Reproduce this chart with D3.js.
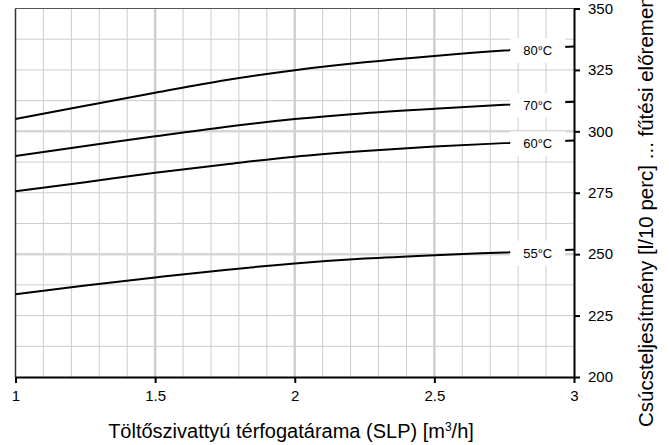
<!DOCTYPE html>
<html lang="hu">
<head>
<meta charset="UTF-8">
<title>Csúcsteljesítmény</title>
<script src="https://cdn.jsdelivr.net/npm/d3@7/dist/d3.min.js"></script>
<style>
  body { margin: 0; background: #fff; }
  text { font-family: "Liberation Sans", Arial, sans-serif; }
</style>
</head>
<body>
<script>
// x values (flow rate, m3/h) and the four temperature curves
var flow = [1, 1.25, 1.5, 1.75, 2, 2.25, 2.5, 2.75, 3];
var t80 = [305, 310.4, 315.7, 320.8, 324.9, 328.1, 330.7, 332.9, 334.5];
var t70 = [290, 294, 298, 301.8, 305, 307.4, 309.2, 310.8, 312];
var t60 = [275.6, 279.3, 283.1, 286.5, 289.7, 292, 293.8, 295.2, 296.3];
var t55 = [233.7, 237.2, 240.5, 243.6, 246.2, 248.2, 249.6, 250.7, 251.8];
var seriesNames = ["80°C", "70°C", "60°C", "55°C"];
var xTicks = [1, 1.5, 2, 2.5, 3];
var yTicks = [200, 225, 250, 275, 300, 325, 350];
var labelAt = 2.87;

var width = 669, height = 445;
var x = d3.scaleLinear().domain([1, 3]).range([15.5, 574]);
var y = d3.scaleLinear().domain([200, 350]).range([377, 8.5]);

var svg = d3.select("body").append("svg")
    .attr("width", width)
    .attr("height", height);

// grid - minor lines first, major ones on top
var xMinor = d3.range(1.1, 3, 0.1).map(function(d){ return +d.toFixed(1); });
var yMinor = d3.range(212.5, 350, 12.5);
var grid = svg.append("g");

grid.selectAll(".vx").data(xMinor).enter().append("line")
    .attr("x1", d => x(d)).attr("x2", d => x(d))
    .attr("y1", y(350)).attr("y2", y(200))
    .attr("stroke", (d) => (Math.round(d * 10) % 5 === 0) ? "#cfcfcf" : "#cccccc")
    .attr("stroke-width", (d) => (Math.round(d * 10) % 5 === 0) ? 2.5 : 1);

grid.selectAll(".hy").data(yMinor).enter().append("line")
    .attr("x1", x(1)).attr("x2", x(3))
    .attr("y1", d => y(d)).attr("y2", d => y(d))
    .attr("stroke", (d) => (d % 50 === 0) ? "#d6d6d6" : "#cccccc")
    .attr("stroke-width", (d) => (d % 50 === 0) ? 2.5 : 1);

// frame: top and left
svg.append("line").attr("x1", x(1)).attr("x2", x(3)).attr("y1", y(350)).attr("y2", y(350))
    .attr("stroke", "#555").attr("stroke-width", 1);
svg.append("line").attr("x1", x(1)).attr("x2", x(1)).attr("y1", y(350)).attr("y2", y(200))
    .attr("stroke", "#333").attr("stroke-width", 1.5);

// curves
var all = [t80, t70, t60, t55];
var line = d3.line()
    .x(function(d, i){ return x(flow[i]); })
    .y(function(d){ return y(d); })
    .curve(d3.curveMonotoneX);

svg.selectAll(".curve").data(all).enter().append("path")
    .attr("d", line)
    .attr("fill", "none")
    .attr("stroke", "#000")
    .attr("stroke-width", 2);

// labels on white boxes
var interp = function(vals){
    return d3.scaleLinear().domain(flow).range(vals)(labelAt);
};
var lab = svg.selectAll(".lab").data(all).enter().append("g")
    .attr("transform", function(d){ return "translate(" + x(labelAt) + "," + (y(interp(d)) + 2) + ")"; });
lab.append("rect")
    .attr("x", -27.5).attr("y", -12.5)
    .attr("width", 55).attr("height", 25)
    .attr("fill", "#fff");
lab.append("text")
    .attr("text-anchor", "middle")
    .attr("dy", "0.35em")
    .attr("font-size", 13)
    .text(function(d, i){ return seriesNames[i]; });

// bottom axis
var xAxis = svg.append("g")
    .attr("transform", "translate(0," + y(200) + ")")
    .call(d3.axisBottom(x).tickValues(xTicks).tickSize(6).tickSizeOuter(0).tickFormat(d3.format("")));
xAxis.select(".domain").attr("stroke", "#000").attr("stroke-width", 2);
xAxis.selectAll(".tick line").attr("stroke", "#000").attr("stroke-width", 2);
xAxis.selectAll(".tick text").attr("font-size", 15).attr("fill", "#000").attr("dy", "1em")
    .style("font-family", "Liberation Sans, Arial, sans-serif");

// right axis
var yAxis = svg.append("g")
    .attr("transform", "translate(" + x(3) + ",0)")
    .call(d3.axisRight(y).tickValues(yTicks).tickSize(6).tickSizeOuter(0));
yAxis.select(".domain").attr("stroke", "#000").attr("stroke-width", 2);
yAxis.selectAll(".tick line").attr("stroke", "#000").attr("stroke-width", 2);
yAxis.selectAll(".tick text").attr("font-size", 15).attr("fill", "#000").attr("x", 14)
    .style("font-family", "Liberation Sans, Arial, sans-serif");

// axis titles
svg.append("text")
    .attr("x", 291).attr("y", 438)
    .attr("text-anchor", "middle")
    .attr("font-size", 20)
    .html("Töltőszivattyú térfogatárama (SLP) [m<tspan baseline-shift='super' font-size='12'>3</tspan>/h]");

svg.append("text")
    .attr("transform", "translate(653,427) rotate(-90)")
    .attr("text-anchor", "start")
    .attr("font-size", 20.5)
    .text("Csúcsteljesítmény [l/10 perc] ... fűtési előremenő hőmérséklet");
</script>
</body>
</html>
